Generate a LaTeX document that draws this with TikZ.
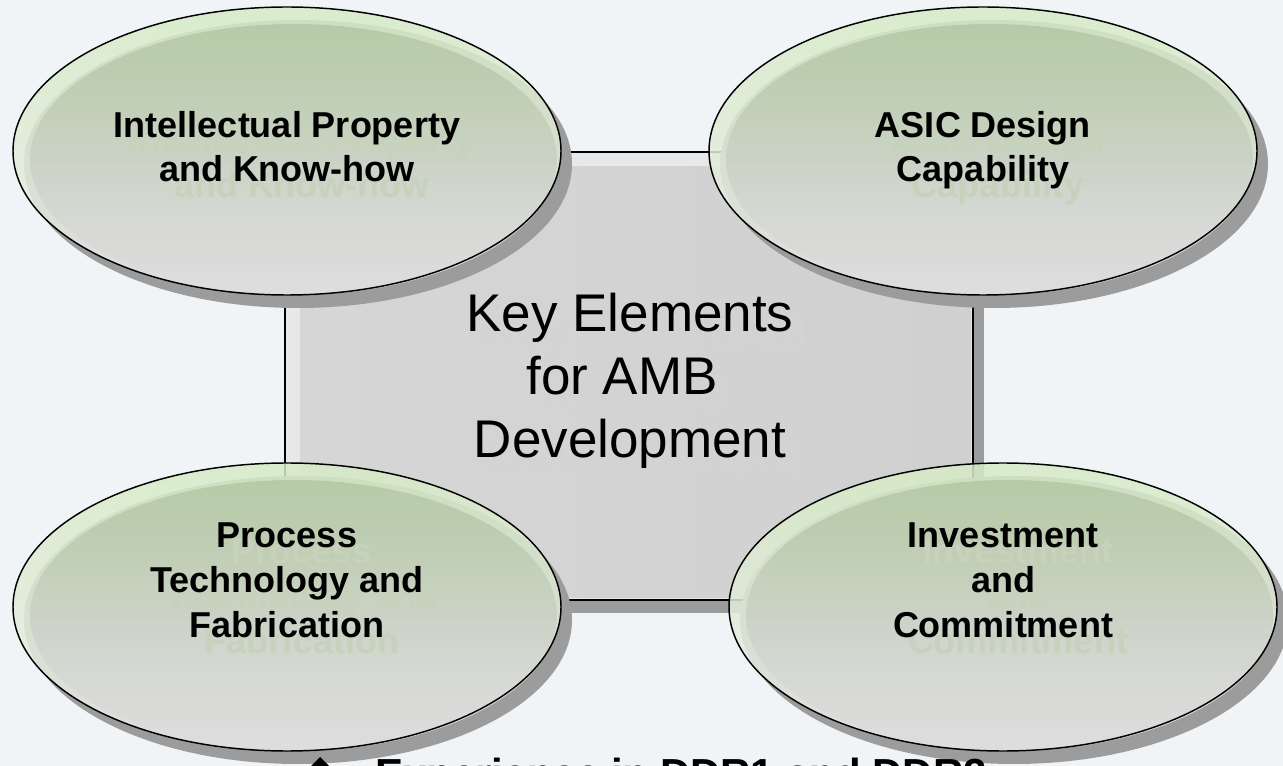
\documentclass[tikz,border=0pt]{standalone}
\usepackage{fontspec}
\setmainfont{Liberation Sans}
\definecolor{bgc}{HTML}{F0F4F7}
\definecolor{shadowc}{HTML}{9B9C9B}
\definecolor{rimtop}{HTML}{D6EBC6}
\definecolor{rimbot}{HTML}{ECECEC}
\definecolor{intop}{HTML}{BCD2A9}
\definecolor{inup}{HTML}{C6D7B9}
\definecolor{inmid}{HTML}{D4DCCD}
\definecolor{inlow}{HTML}{E2E4E1}
\definecolor{inbot}{HTML}{E8E8E8}
\definecolor{rectrim}{HTML}{E8E8E8}
\definecolor{rectside}{HTML}{D6D6D6}
\definecolor{rectmid}{HTML}{E7E7E7}
\definecolor{rectright}{HTML}{D0D0D0}
\definecolor{ghostell}{HTML}{C6D2BC}
\definecolor{ghostrect}{HTML}{D2D3D3}
\pgfdeclareverticalshading{ellshade}{100bp}{color(0bp)=(inbot); color(25bp)=(inbot); color(37bp)=(inlow); color(50bp)=(inmid); color(62bp)=(inup); color(75bp)=(intop); color(100bp)=(intop)}
\tikzset{
  elltext/.style={font=\fontsize{27}{27}\selectfont\bfseries, anchor=base, inner sep=0pt},
  keytext/.style={font=\fontsize{39.75}{39.75}\selectfont, anchor=base, inner sep=0pt},
  bottomtext/.style={font=\fontsize{31.5}{31.5}\selectfont\bfseries, anchor=base west, inner sep=0pt},
  outline/.style={draw=black, line width=1.1pt},
}
\newcommand\ambell[2]{%
  \fill[shadowc] ({#1+11},{-(#2)-13}) ellipse [x radius=274, y radius=144];
  \begin{scope}[transparency group, opacity=0.86]
    \shade[top color=rimtop, bottom color=rimbot] (#1,-#2) ellipse [x radius=274, y radius=144];
    \shade[shading=ellshade] ({#1+6.5},{-(#2)-8.5}) ellipse [x radius=263.5, y radius=135.5];
  \end{scope}
  \draw[outline] (#1,-#2) ellipse [x radius=274, y radius=144];
}
\newcommand\ambtext[6]{%
  \node[#2, text=#6] (#1g) at ({#3+15},{-(#4)-16}) {#5};
  \node[#2] (#1) at (#3,-#4) {#5};
}
\begin{document}
\begin{tikzpicture}[x=0.75pt, y=0.75pt]
  \useasboundingbox (0,0) rectangle (1283,-766);
  \clip (0,0) rectangle (1283,-766);
  \fill[bgc] (0,0) rectangle (1283,-766);
  % central rectangle
  \fill[shadowc] (296,-165) rectangle (984,-613);
  \fill[rectrim] (285,-152) rectangle (973,-600);
  \shade[left color=rectside, middle color=rectmid, right color=rectright] (300,-167) rectangle (971,-598);
  \draw[outline] (285,-152) rectangle (973,-600);
  % ellipses
  \ambell{287}{151}
  \ambell{983}{151}
  \ambell{287}{607}
  \ambell{1003}{607}
  % ellipse texts
  \ambtext{ipa}{elltext}{287}{138}{Intellectual Property}{ghostell}
  \ambtext{ipb}{elltext}{287}{182}{and Know-how}{ghostell}
  \ambtext{asa}{elltext}{983}{138}{ASIC Design}{ghostell}
  \ambtext{asb}{elltext}{983}{182}{Capability}{ghostell}
  \ambtext{pta}{elltext}{287}{548}{Process}{ghostell}
  \ambtext{ptb}{elltext}{287}{593}{Technology and}{ghostell}
  \ambtext{ptc}{elltext}{287}{638}{Fabrication}{ghostell}
  \ambtext{ica}{elltext}{1003}{548}{Investment}{ghostell}
  \ambtext{icb}{elltext}{1003}{593}{and}{ghostell}
  \ambtext{icc}{elltext}{1003}{638}{Commitment}{ghostell}
  % central text
  \ambtext{kea}{keytext}{630}{332}{Key Elements}{ghostrect}
  \ambtext{keb}{keytext}{622}{395}{for AMB}{ghostrect}
  \ambtext{kec}{keytext}{630}{458}{Development}{ghostrect}
  % bottom bullet line
  \fill[black] (320,-757) -- (339,-776) -- (320,-795) -- (301,-776) -- cycle;
  \node[bottomtext] (exp) at (375,-788) {Experience in DDR1 and DDR2};
\end{tikzpicture}
\end{document}
